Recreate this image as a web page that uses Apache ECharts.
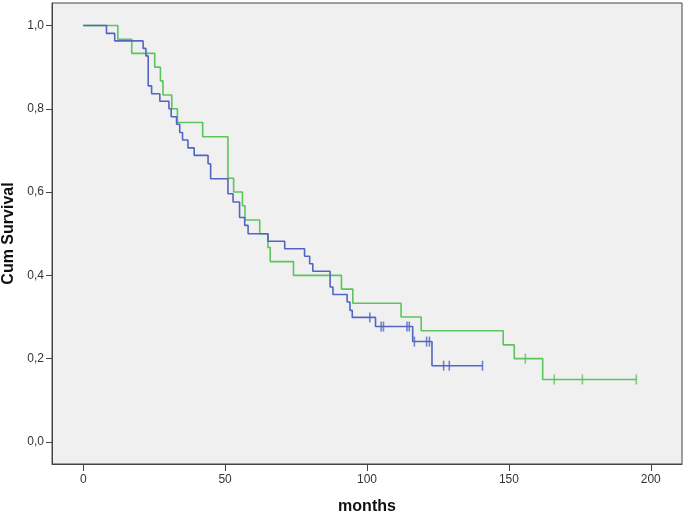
<!DOCTYPE html>
<html>
<head>
<meta charset="utf-8">
<script src="https://cdn.jsdelivr.net/npm/echarts@6/dist/echarts.min.js"></script>
<style>
html,body{margin:0;padding:0;background:#fff;}
#chart{width:685px;height:514px;}
</style>
</head>
<body>
<div id="chart"></div>
<script>
// Blue group: event times (months) and survival after each event
const blueTimes = [0, 8.2, 11.1, 21.1, 22.1, 22.9, 24.1, 27.0, 30.2, 31.0, 32.9, 34.0, 35.0, 36.9, 39.1, 44.0, 44.9, 51.0, 52.8, 55.1, 56.9, 58.1, 65.1, 71.0, 78.0, 79.8, 80.9, 87.0, 88.0, 93.0, 94.0, 94.8, 103.0, 116.1, 122.9];
const blueSurv  = [1.0, 0.981, 0.963, 0.945, 0.927, 0.855, 0.836, 0.818, 0.800, 0.781, 0.763, 0.743, 0.725, 0.706, 0.688, 0.668, 0.632, 0.596, 0.576, 0.539, 0.520, 0.500, 0.482, 0.464, 0.446, 0.428, 0.410, 0.372, 0.354, 0.336, 0.316, 0.299, 0.277, 0.241, 0.183];
const blueCensor = [101.0, 105.0, 105.8, 114.1, 114.9, 116.7, 121.0, 122.0, 127.0, 129.0, 140.7];

// Green group
const greenTimes = [0, 12.2, 17.1, 25.2, 27.2, 28.1, 31.2, 33.2, 42.1, 51.0, 53.0, 56.1, 57.0, 62.2, 65.1, 65.9, 74.1, 91.0, 95.0, 112.0, 119.1, 148.0, 151.9, 161.9];
const greenSurv  = [1.0, 0.967, 0.933, 0.900, 0.867, 0.833, 0.800, 0.767, 0.733, 0.633, 0.600, 0.567, 0.533, 0.500, 0.467, 0.433, 0.400, 0.367, 0.333, 0.300, 0.267, 0.233, 0.200, 0.150];
const greenCensor = [155.8, 166.0, 175.9, 194.9];

const xTicks = [0, 50, 100, 150, 200];
const yTicks = [0, 0.2, 0.4, 0.6, 0.8, 1.0];

function survAt(times, surv, t) {
  let s = surv[0];
  for (let i = 0; i < times.length; i++) { if (times[i] <= t) s = surv[i]; }
  return s;
}
function stepData(times, surv, censor) {
  const d = times.map((t, i) => [t, surv[i]]);
  const last = Math.max(times[times.length - 1], censor[censor.length - 1]);
  d.push([last, survAt(times, surv, last)]);
  return d;
}
function censorData(times, surv, censor) {
  return censor.map(t => [t, survAt(times, surv, t)]);
}

const BLUE = '#5365c2';
const GREEN = '#5cc45c';

const chart = echarts.init(document.getElementById('chart'), null, {renderer: 'canvas'});
chart.setOption({
  animation: false,
  grid: {left: 52, right: 3, top: 3, bottom: 50, containLabel: false, outerBoundsMode: 'none',
         show: true, backgroundColor: '#f0f0f0', borderColor: '#444', borderWidth: 1},
  xAxis: {
    type: 'value', min: -11, max: 211,
    name: 'months', nameLocation: 'middle', nameGap: 35,
    nameTextStyle: {fontFamily: 'Liberation Sans, Arial', fontWeight: 'bold', fontSize: 16, color: '#111'},
    axisLine: {show: true, onZero: false, lineStyle: {color: '#444', width: 1}},
    axisTick: {show: true, customValues: xTicks, length: 7, lineStyle: {color: '#444'}},
    axisLabel: {customValues: xTicks, fontFamily: 'Liberation Sans, Arial', fontSize: 12, color: '#333', margin: 10},
    splitLine: {show: false}
  },
  yAxis: {
    type: 'value', min: -0.053, max: 1.054,
    name: 'Cum Survival', nameLocation: 'middle', nameGap: 29,
    nameTextStyle: {fontFamily: 'Liberation Sans, Arial', fontWeight: 'bold', fontSize: 16, color: '#111'},
    axisLine: {show: true, onZero: false, lineStyle: {color: '#444', width: 1}},
    axisTick: {show: true, customValues: yTicks, length: 6, lineStyle: {color: '#444'}},
    axisLabel: {customValues: yTicks, fontFamily: 'Liberation Sans, Arial', fontSize: 12, color: '#333', margin: 8,
      formatter: v => v.toFixed(1).replace('.', ',')},
    splitLine: {show: false}
  },
  series: [
    {type: 'line', step: 'end', showSymbol: false, data: stepData(greenTimes, greenSurv, greenCensor),
     lineStyle: {color: GREEN, width: 1.6}, itemStyle: {color: GREEN}, z: 2},
    {type: 'line', step: 'end', showSymbol: false, data: stepData(blueTimes, blueSurv, blueCensor),
     lineStyle: {color: BLUE, width: 1.6}, itemStyle: {color: BLUE}, z: 3},
    {type: 'scatter', symbol: 'rect', symbolSize: [1.6, 10], data: censorData(greenTimes, greenSurv, greenCensor),
     itemStyle: {color: GREEN}, z: 4},
    {type: 'scatter', symbol: 'rect', symbolSize: [1.6, 10], data: censorData(blueTimes, blueSurv, blueCensor),
     itemStyle: {color: BLUE}, z: 5}
  ]
});
</script>
</body>
</html>
